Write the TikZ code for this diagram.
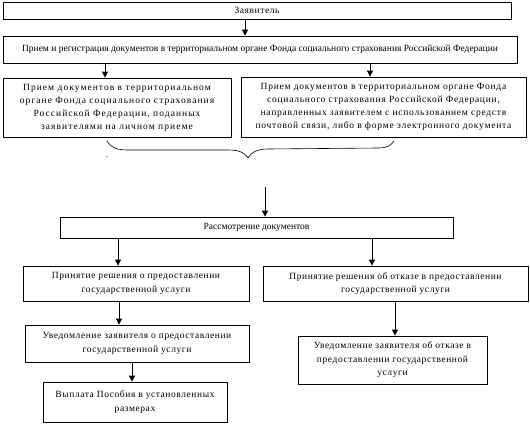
\documentclass[tikz,border=0pt]{standalone}
\usepackage{fontspec}
\setmainfont{Liberation Serif}
\newfontfamily\wideA[LetterSpace=6]{Liberation Serif}
\newfontfamily\wideB[LetterSpace=8]{Liberation Serif}
\newfontfamily\wideC[LetterSpace=11]{Liberation Serif}
\usetikzlibrary{arrows.meta}
\begin{document}
\begin{tikzpicture}[x=1pt,y=-1pt,
  box/.style={draw, line width=0.8pt, rectangle, inner sep=0pt, align=center},
  fplain/.style={font=\fontsize{9.5}{13.5}\selectfont},
  fwide/.style={font=\wideA\fontsize{9.5}{13.5}\selectfont},
  fwideB/.style={font=\wideB\fontsize{9.5}{13}\selectfont},
  fwideC/.style={font=\wideC\fontsize{9.5}{13}\selectfont},
  arr/.style={line width=0.8pt, -{Triangle[width=6pt,length=6pt]}}]
\useasboundingbox (0,0) rectangle (530,442);
% columns for connectors
\coordinate (c245) at (245,0);
\coordinate (c105) at (105,0);
\coordinate (c370) at (370,0);
\coordinate (c118) at (118,0);
\coordinate (c372) at (372,0);
\coordinate (c119) at (119,0);
\coordinate (c395) at (395,0);
\coordinate (c132) at (132,0);
% boxes
\node[box, fwide, minimum width=508pt, minimum height=17pt] (n1) at (257,10.5) {Заявитель};
\node[box, fplain, minimum width=514pt, minimum height=27pt] (n2) at (260,49.5) {Прием и регистрация документов в территориальном органе Фонда социального страхования Российской Федерации};
\node[box, fwideC, minimum width=228pt, minimum height=59pt] (n3) at (117,107.5) {Прием документов в территориальном\\органе Фонда социального страхования\\Российской Федерации, поданных\\заявителями на личном приеме};
\node[box, fwideB, minimum width=285pt, minimum height=60pt] (n4) at (383.5,107) {Прием документов в территориальном органе Фонда\\социального страхования Российской Федерации,\\направленных заявителем с использованием средств\\почтовой связи, либо в форме электронного документа};
\node[box, fplain, minimum width=393pt, minimum height=21pt] (n5) at (256.5,227.5) {Рассмотрение документов};
\node[box, fwide, minimum width=226pt, minimum height=35pt] (n6) at (136,283.5) {Принятие решения о предоставлении\\государственной услуги};
\node[box, fwide, minimum width=265pt, minimum height=35pt] (n7) at (395.5,283.5) {Принятие решения об отказе в предоставлении\\государственной услуги};
\node[box, fwide, minimum width=224pt, minimum height=37pt] (n8) at (137,343.5) {Уведомление заявителя о предоставлении\\государственной услуги};
\node[box, fwide, minimum width=189pt, minimum height=48pt] (n9) at (392.5,360) {Уведомление заявителя об отказе в\\предоставлении государственной\\услуги};
\node[box, fwide, minimum width=184pt, minimum height=40pt] (n10) at (135,402) {Выплата Пособия в установленных\\размерах};
\node[inner sep=0pt, fplain] (dot) at (107,157) {.};
% brace
\draw[line width=0.6pt] (107,141) .. controls (112,149) and (118,150) .. (130,150) -- (228,150)
  .. controls (240,150) and (245,153) .. (248,158)
  .. controls (251,153) and (256,149) .. (268,149) -- (378,148)
  .. controls (388,148) and (391,145) .. (394,141);
\coordinate (bstart) at (265,187);
% connectors
\draw[arr] (n1.south -| c245) -- (n2.north -| c245);
\draw[arr] (n2.south -| c105) -- (n3.north -| c105);
\draw[arr] (n2.south -| c370) -- (n4.north -| c370);
\draw[arr] (bstart) -- (bstart |- n5.north);
\draw[arr] (n5.south -| c118) -- (n6.north -| c118);
\draw[arr] (n5.south -| c372) -- (n7.north -| c372);
\draw[arr] (n6.south -| c119) -- (n8.north -| c119);
\draw[arr] (n7.south -| c395) -- (n9.north -| c395);
\draw[arr] (n8.south -| c132) -- (n10.north -| c132);
\end{tikzpicture}
\end{document}
